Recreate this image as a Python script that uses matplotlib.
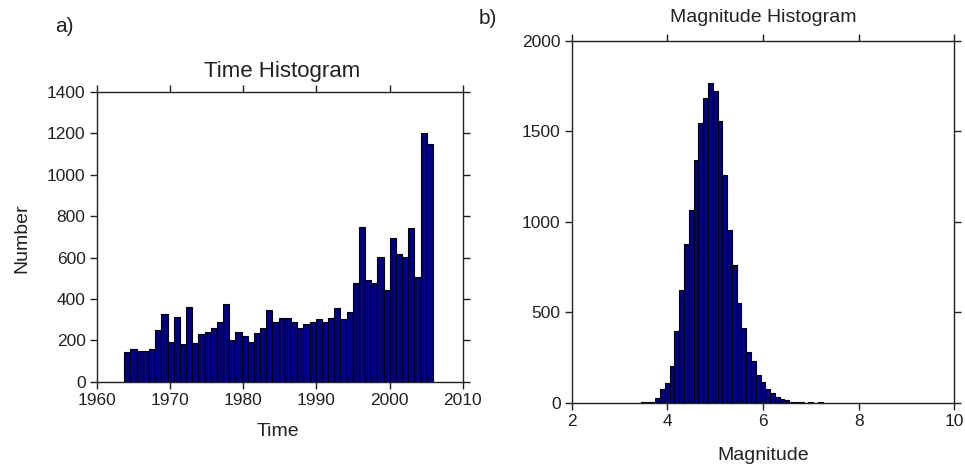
import numpy as np
import matplotlib
matplotlib.use('Agg')
import matplotlib.pyplot as plt

# Time histogram: 50 equal bins between these years
time_start = 1963.77
time_end = 2005.94
time_counts = [144, 160, 150, 150, 158, 249, 326, 194, 312, 181,
               361, 187, 229, 242, 261, 290, 374, 200, 242, 223,
               194, 236, 261, 345, 290, 310, 310, 290, 261, 278,
               290, 305, 290, 310, 358, 305, 339, 479, 748, 492,
               479, 603, 444, 694, 619, 603, 742, 508, 1202, 1151]

# Magnitude histogram: bin centres (0.1 wide) and counts
mag_centers = [3.5, 3.6, 3.7, 3.8, 3.9, 4.0, 4.1, 4.2, 4.3, 4.4,
               4.5, 4.6, 4.7, 4.8, 4.9, 5.0, 5.1, 5.2, 5.3, 5.4,
               5.5, 5.6, 5.7, 5.8, 5.9, 6.0, 6.1, 6.2, 6.3, 6.4,
               6.5, 6.6, 6.7, 6.8, 6.9, 7.0, 7.1, 7.2]
mag_counts = [3, 4, 6, 24, 74, 110, 201, 398, 621, 875,
              1065, 1341, 1543, 1683, 1764, 1724, 1556, 1256, 954, 762,
              549, 414, 278, 232, 151, 112, 74, 55, 33, 22,
              15, 4, 3, 3, 0, 4, 0, 4]
mag_width = 0.1

time_ticks = [1960, 1970, 1980, 1990, 2000, 2010]
time_yticks = [0, 200, 400, 600, 800, 1000, 1200, 1400]
mag_ticks = [2, 4, 6, 8, 10]
mag_yticks = [0, 500, 1000, 1500, 2000]

plt.rcParams['font.family'] = ['Liberation Sans', 'DejaVu Sans']
plt.rcParams['font.size'] = 12
txt_color = '#222222'

W, H = 965, 468
fig = plt.figure(figsize=(W / 100, H / 100), dpi=100)


def style_axes(ax):
    ax.tick_params(direction='out', length=5, width=1.0, top=True, right=True,
                   labeltop=False, labelright=False, colors='#222222',
                   labelsize=12.5, pad=3)
    for s in ax.spines.values():
        s.set_linewidth(1.0)
        s.set_color('#222222')


def fig_text(x, y, s, size, **kw):
    kw.setdefault('va', 'center')
    fig.text(x / W, 1 - y / H, s, ha='center', color=txt_color,
             fontsize=size, **kw)


# a) time histogram
ax1 = fig.add_axes([96.7 / W, 1 - 381.7 / H, 366 / W, 289.7 / H])
edges = np.linspace(time_start, time_end, len(time_counts) + 1)
ax1.bar(edges[:-1], time_counts, width=np.diff(edges), align='edge',
        color='#000080', edgecolor='black', linewidth=0.8)
ax1.set_xlim(1960, 2010)
ax1.set_ylim(0, 1400)
ax1.set_xticks(time_ticks)
ax1.set_yticks(time_yticks)
style_axes(ax1)

# b) magnitude histogram
ax2 = fig.add_axes([571.7 / W, 1 - 402.7 / H, 382.5 / W, 362 / H])
ax2.bar(mag_centers, mag_counts, width=mag_width, align='center',
        color='#000080', edgecolor='black', linewidth=0.8)
ax2.set_xlim(2, 10)
ax2.set_ylim(0, 2000)
ax2.set_xticks(mag_ticks)
ax2.set_yticks(mag_yticks)
style_axes(ax2)

fig_text(64, 27, 'a)', 15)
fig_text(282, 77, 'Time Histogram', 16, va='baseline')
fig_text(278, 432, 'Time', 14)
fig_text(22, 238, 'Number', 14, rotation=90)

fig_text(488, 18, 'b)', 15)
fig_text(763, 17, 'Magnitude Histogram', 14)
fig_text(763, 455, 'Magnitude', 14)

fig.savefig('out.png', dpi=100)
